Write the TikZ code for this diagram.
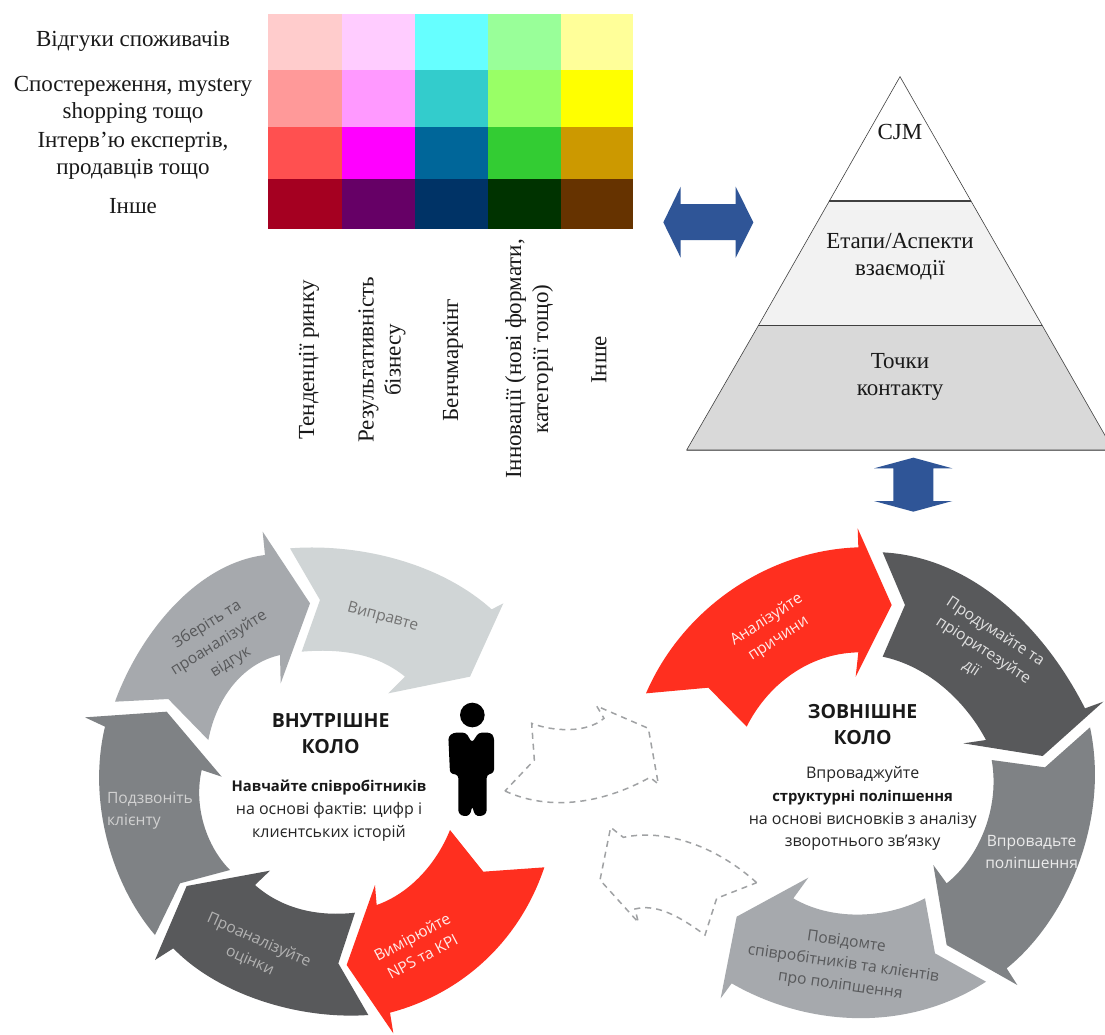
\documentclass[tikz,border=0pt]{standalone}
\usepackage{fontspec}
\setmainfont{Liberation Serif}
\newfontfamily\ringfont{Open Sans}
\definecolor{cA}{HTML}{D0D5D6}
\definecolor{cB}{HTML}{A6A9AD}
\definecolor{cC}{HTML}{7F8285}
\definecolor{cD}{HTML}{58595B}
\definecolor{cR}{HTML}{FF2F1F}
\definecolor{cBlue}{HTML}{2F5597}
\definecolor{cDash}{HTML}{A0A2A4}
\tikzset{
  serif/.style={font=\fontsize{23}{27}\selectfont,align=center,inner sep=0pt,text=black!90},
  pyr/.style={draw=black!75,line width=0.6pt},
  sep/.style={draw=black!75,line width=1.4pt},
  blue/.style={fill=cBlue,draw=none},
  lab/.style={font=\ringfont\fontsize{15.6}{22}\selectfont,align=center,inner sep=0pt},
  head/.style={font=\ringfont\bfseries\fontsize{19.5}{26}\selectfont,align=center,inner sep=0pt,text=black!90},
  txt/.style={font=\ringfont\fontsize{16}{23}\selectfont,inner sep=0pt,text=black!85},
  txtb/.style={font=\ringfont\bfseries\fontsize{14.8}{23}\selectfont,inner sep=0pt,text=black!90},
  dashline/.style={draw=cDash,line width=1.5pt,dash pattern=on 6pt off 5pt},
}
\begin{document}
\begin{tikzpicture}[x=1pt,y=-1pt]
\useasboundingbox (0,0) rectangle (1105,1034);
\fill[white] (0,0) rectangle (1105,1034);
% table
\foreach \xa/\xb/\ya/\yb/\c in {
268/342/14/70/FFCCCC,342/415/14/70/FFCCFF,415/488/14/70/66FFFF,488/560.5/14/70/99FF99,560.5/633/14/70/FFFF99,
268/342/70/127/FF9999,342/415/70/127/FF99FF,415/488/70/127/33CCCC,488/560.5/70/127/99FF66,560.5/633/70/127/FFFF00,
268/342/127/179/FF5050,342/415/127/179/FF00FF,415/488/127/179/006699,488/560.5/127/179/33CC33,560.5/633/127/179/CC9900,
268/342/179/229/A50021,342/415/179/229/660066,415/488/179/229/003366,488/560.5/179/229/003300,560.5/633/179/229/663300}{
  \definecolor{tmpc}{HTML}{\c}
  \fill[tmpc] (\xa,\ya) rectangle (\xb,\yb);
}
\node[serif] (r1) at (133,41) {Відгуки споживачів};
\node[serif] (r2) at (133,99.5) {Спостереження, mystery\\shopping тощо};
\node[serif] (r3) at (133,156) {Інтерв’ю експертів,\\продавців тощо};
\node[serif] (r4) at (133,206) {Інше};
\node[serif,rotate=90] (c1) at (309,360) {Тенденції ринку};
\node[serif,rotate=90] (c2) at (382,360) {Результативність\\бізнесу};
\node[serif,rotate=90] (c3) at (453,360) {Бенчмаркінг};
\node[serif,rotate=90] (c4) at (529,359) {Інновації (нові формати,\\категорії тощо)};
\node[serif,rotate=90] (c5) at (599,360) {Інше};
% pyramid and blue arrows, zoom coords
\begin{scope}[shift={(640,70)},x=0.33333pt,y=-0.33333pt]
  \path[pyr,fill=white] (780,20) -- (568,393) -- (993,393) -- cycle;
  \path[pyr,fill=black!5] (568,393) -- (355,767) -- (1207,767) -- (993,393) -- cycle;
  \path[pyr,fill=black!15] (355,767) -- (140,1140) -- (1420,1140) -- (1207,767) -- cycle;
  \draw[sep] (568,393) -- (993,393);
  \draw[sep] (355,767) -- (1207,767);
  \draw[draw=black!55,line width=1pt] (140,1140) -- (1420,1140);
  \node[serif] (p1) at (780,187) {CJM};
  \node[serif] (p2) at (780,560) {Етапи/Аспекти\\взаємодії};
  \node[serif] (p3) at (780,921) {Точки\\контакту};
  \path[blue] (70,457) -- (122,350) -- (122,402) -- (287,402) -- (287,350) -- (340,457) -- (287,563) -- (287,510) -- (122,510) -- (122,563) -- cycle;
  \path[blue] (820,1163) -- (937,1195) -- (880,1195) -- (880,1293) -- (937,1293) -- (820,1325) -- (702,1293) -- (760,1293) -- (760,1195) -- (702,1195) -- cycle;
\end{scope}
% left ring
\begin{scope}[shift={(70,520)},x=0.33333pt,y=-0.33333pt]
  \fill[cA] (660,85) .. controls (850,70) and (1100,120) .. (1265,268) -- (1300,250) -- (1200,470) -- (955,520) -- (1005,470) .. controls (920,400) and (810,385) .. (695,395) -- (750,240) -- cycle;
  \fill[cB] (135,545) .. controls (210,340) and (380,130) .. (585,105) -- (578,35) -- (720,250) -- (632,490) -- (630,405) .. controls (520,430) and (440,530) .. (415,660) -- (295,537) -- cycle;
  \fill[cC] (45,592) -- (290,575) -- (455,770) -- (395,750) .. controls (370,860) and (410,980) .. (480,1050) -- (330,1090) -- (255,1245) .. controls (130,1100) and (50,850) .. (105,620) -- cycle;
  \fill[cD] (895,1485) .. controls (680,1500) and (440,1420) .. (310,1285) -- (255,1320) -- (350,1098) -- (600,1052) -- (555,1095) .. controls (640,1170) and (750,1190) .. (855,1178) -- (805,1330) -- cycle;
  \fill[cR] (915,1095) -- (830,1335) -- (970,1540) -- (960,1478) .. controls (1180,1420) and (1350,1260) .. (1423,1042) -- (1240,1055) -- (1140,930) .. controls (1100,1030) and (1020,1120) .. (920,1155) -- cycle;
  \node[lab,text=black!55,rotate=-15] (l1) at (938,292) {Виправте};
  \node[lab,text=cD,rotate=32] (l2) at (447,370) {Зберіть та\\проаналізуйте\\відгук};
  \node[lab,text=black!18,align=left] (l3) at (240,871) {Подзвоніть\\клієнту};
  \node[lab,text=black!30,rotate=-24] (l4) at (553,1292) {Проаналізуйте\\оцінки};
  \node[lab,text=white!90!cR,rotate=28] (l5) at (1042,1280) {Вимірюйте\\NPS та KPI};
  \node[head] (l6) at (782,642) {ВНУТРІШНЕ\\КОЛО};
  \node[txtb] (l7) at (777,801) {Навчайте співробітників};
  \node[txt] (l8) at (777,871) {на основі фактів: цифр і};
  \node[txt] (l9) at (777,941) {клиєнтських історій};
  \fill[black] (1207,585) circle (37);
  \fill[black,rounded corners=3pt] (1135,650) -- (1150,638) -- (1188,638) -- (1206,668) -- (1226,638) -- (1262,638) -- (1272,650) -- (1272,758) -- (1250,765) -- (1250,880) -- (1232,890) -- (1214,885) -- (1207,858) -- (1200,885) -- (1182,890) -- (1165,880) -- (1165,765) -- (1140,760) -- cycle;
\end{scope}
% dashed arrows
\begin{scope}[shift={(490,690)},x=0.33333pt,y=-0.33333pt]
  \draw[dashline] (45,303) .. controls (180,365) and (340,340) .. (480,262) -- (505,282) -- (475,115) -- (320,48) -- (342,85) .. controls (290,130) and (190,125) .. (125,100) -- (133,210) -- cycle;
  \draw[dashline] (800,578) .. controls (680,470) and (530,415) .. (400,442) -- (362,412) -- (330,570) -- (445,697) -- (435,657) .. controls (500,640) and (570,680) .. (645,735) -- (680,625) -- cycle;
\end{scope}
% right ring
\begin{scope}[shift={(590,520)},x=0.33333pt,y=-0.33333pt]
  \fill[cR] (168,520) .. controls (280,260) and (540,90) .. (805,82) -- (803,25) -- (905,255) -- (797,470) -- (805,397) .. controls (650,400) and (530,500) .. (470,620) -- (355,503) -- cycle;
  \fill[cD] (878,97) -- (945,255) -- (878,410) .. controls (1020,440) and (1130,550) .. (1188,660) -- (1120,670) -- (1358,708) -- (1540,545) -- (1485,565) .. controls (1350,300) and (1130,110) .. (878,97) -- cycle;
  \fill[cC] (1500,622) .. controls (1560,900) and (1430,1200) .. (1250,1345) -- (1282,1395) -- (1070,1275) -- (1030,1035) -- (1070,1090) .. controls (1170,1010) and (1230,860) .. (1205,720) -- (1365,742) -- cycle;
  \fill[cB] (1188,1385) -- (1035,1300) -- (1005,1135) .. controls (880,1200) and (720,1200) .. (610,1135) -- (655,1073) -- (440,1190) -- (392,1435) -- (425,1390) .. controls (650,1520) and (950,1540) .. (1188,1385) -- cycle;
  \node[lab,text=white!90!cR,rotate=33] (o1) at (548,328) {Аналізуйте\\причини};
  \node[lab,text=black!12,rotate=-33] (o2) at (1180,391) {Продумайте та\\пріоритезуйте\\дії};
  \node[lab,text=black!8] (o3) at (1325,995) {Впровадьте\\поліпшення};
  \node[lab,text=cD,rotate=-8] (o4) at (760,1332) {Повідомте\\співробітників та клієнтів\\про поліпшення};
  \node[head] (o5) at (818,615) {ЗОВНІШНЕ\\КОЛО};
  \node[txt] (o6) at (818,763) {Впроваджуйте};
  \node[txtb] (o7) at (818,833) {структурні поліпшення};
  \node[txt] (o8) at (818,901) {на основі висновків з аналізу};
  \node[txt] (o9) at (818,968) {зворотнього зв’язку};
\end{scope}
\end{tikzpicture}
\end{document}
